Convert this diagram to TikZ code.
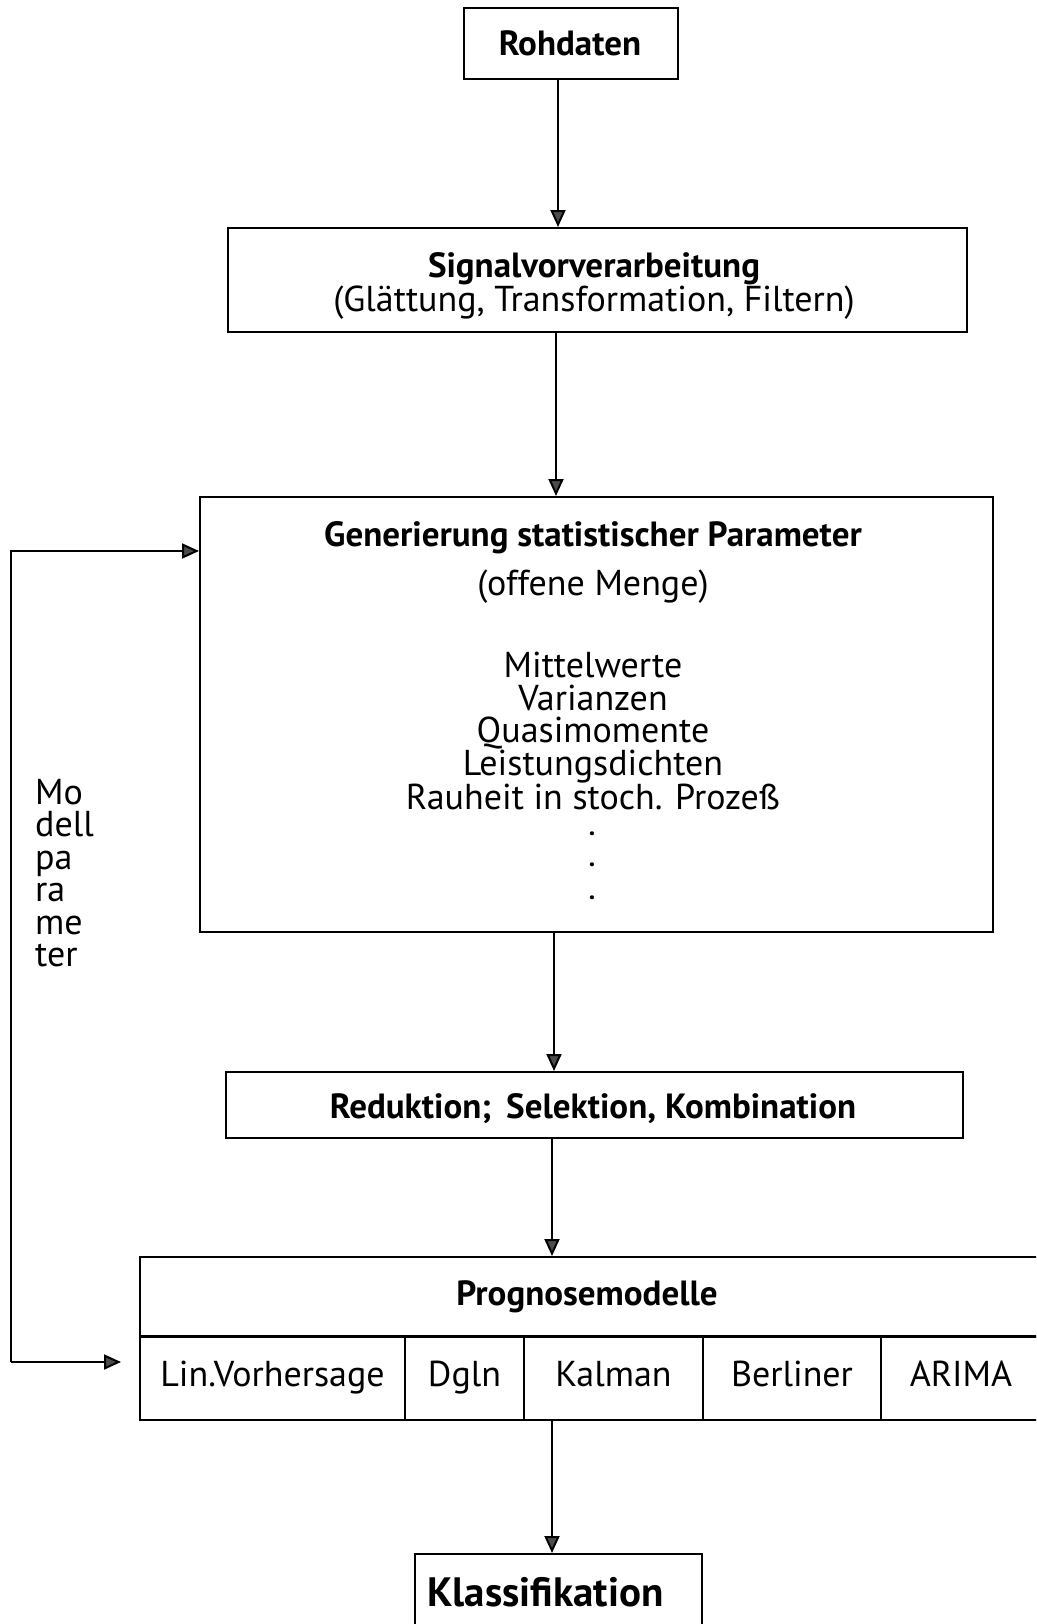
\documentclass[tikz,border=0pt]{standalone}
\usepackage{fontspec}
\setmainfont{PT Sans}
\usetikzlibrary{arrows.meta}
\tikzset{
  box/.style={draw, line width=2pt, rectangle, inner sep=0pt},
  conn/.style={line width=2pt, -{Triangle[length=17pt,width=15pt,fill=black!70]}},
  bt/.style={font=\fontsize{35}{38}\selectfont\bfseries, inner sep=0pt, text height=25pt, text depth=8pt},
  nt/.style={font=\fontsize{36}{32.5}\selectfont, inner sep=0pt, text height=25pt, text depth=8pt},
  dotn/.style={font=\fontsize{26}{26}\selectfont\bfseries, inner sep=0pt},
}
\begin{document}
\begin{tikzpicture}[x=1pt,y=-1pt]
\useasboundingbox (0,0) rectangle (1036,1624);
\clip (0,0) rectangle (1036,1624);
% x positions of vertical connectors
\coordinate (c1) at (558,0);
\coordinate (c2) at (556,0);
\coordinate (c3) at (554,0);
\coordinate (c4) at (552,0);
\coordinate (c5) at (552,0);
% boxes
\node[box, minimum width=214pt, minimum height=71pt] (roh) at (571,44) {};
\node[bt] (rohT) at (570,47) {Rohdaten};
\node[box, minimum width=739pt, minimum height=104pt] (sig) at (597.5,280) {};
\node[bt] (sigA) at (594,269) {Signalvorverarbeitung};
\node[nt] (sigB) at (594,303) {(Glättung, Transformation, Filtern)};
\node[box, minimum width=793pt, minimum height=435pt] (gen) at (596.5,714.5) {};
\node[bt] (genA) at (593,538) {Generierung statistischer Parameter};
\node[nt] (genB) at (593,587) {(offene Menge)};
\node[nt, align=center, text height=, text depth=] (genC) at (593,731) {Mittelwerte\\Varianzen\\Quasimomente\\Leistungsdichten\\Rauheit in stoch. Prozeß};
\node[dotn] (d1) at (592,834) {.};
\node[dotn] (d2) at (592,865) {.};
\node[dotn] (d3) at (592,898) {.};
\node[box, minimum width=737pt, minimum height=66pt] (red) at (594.5,1105) {};
\node[bt] (redT) at (593,1110) {Reduktion; \,Selektion, Kombination};
\node[box, minimum width=920pt, minimum height=79pt] (prog) at (600,1296.5) {};
\node[bt] (progT) at (587,1297) {Prognosemodelle};
\node[box, minimum width=265pt, minimum height=83pt, nt] (m1) at (272.5,1378) {Lin.Vorhersage};
\node[box, minimum width=119pt, minimum height=83pt, nt] (m2) at (464.5,1378) {Dgln};
\node[box, minimum width=179pt, minimum height=83pt, nt] (m3) at (613.5,1378) {Kalman};
\node[box, minimum width=178pt, minimum height=83pt, nt] (m4) at (792,1378) {Berliner};
\node[box, minimum width=179pt, minimum height=83pt] (m5) at (970.5,1378) {};
\node[nt] (m5T) at (961,1378) {ARIMA};
\node[box, minimum width=287pt, minimum height=110pt] (kla) at (558.5,1609) {};
\node[font=\fontsize{41}{44}\selectfont\bfseries, inner sep=0pt, anchor=west] (klaT) at (427,1592) {Klassifikation};
% label
\node[nt, align=left, anchor=north west, inner sep=0pt, text height=, text depth=] (lab) at (35,779) {Mo\\dell\\pa\\ra\\me\\ter};
% connectors
\draw[conn] (roh.south -| c1) -- (sig.north -| c1);
\draw[conn] (sig.south -| c2) -- (gen.north -| c2);
\draw[conn] (gen.south -| c3) -- (red.north -| c3);
\draw[conn] (red.south -| c4) -- (prog.north -| c4);
\draw[conn] (m3.south -| c5) -- (kla.north -| c5);
% feedback
\coordinate (fbTop) at (11,551);
\coordinate (fbBot) at (11,1362);
\coordinate (fbEnd) at (121,1362);
\draw[conn] (fbBot) -- (fbTop) -- (gen.west |- fbTop);
\draw[conn] (fbBot) -- (fbEnd);
\end{tikzpicture}
\end{document}
